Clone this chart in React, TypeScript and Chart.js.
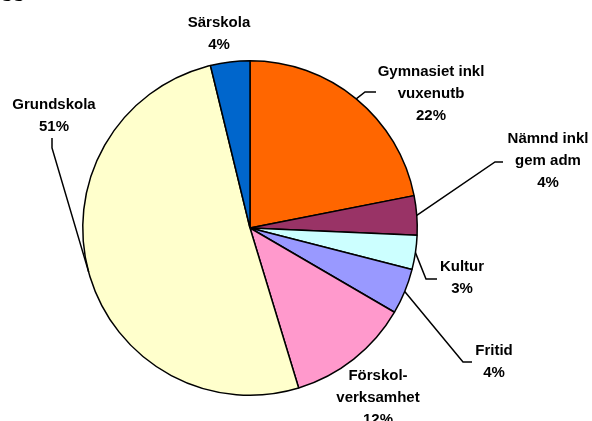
import React, { useEffect, useRef } from "react";
import { Chart, registerables } from "chart.js";

Chart.register(...registerables);

const categories: string[][] = [
  ["Gymnasiet inkl", "vuxenutb"],
  ["Nämnd inkl", "gem adm"],
  ["Kultur"],
  ["Fritid"],
  ["Förskol-", "verksamhet"],
  ["Grundskola"],
  ["Särskola"],
];
const values: number[] = [21.9, 3.8, 3.3, 4.4, 11.9, 50.9, 3.8];
const colors: string[] = ["#FF6600", "#993366", "#CCFFFF", "#9999FF", "#FF99CC", "#FFFFCC", "#0066CC"];

// label layout: text center x, first baseline y, leader points (from label side toward arc)
const labelLayout: { x: number; y: number; leader: number[][] }[] = [
  { x: 431, y: 76, leader: [[376, 92], [365, 92]] },
  { x: 548, y: 143, leader: [[503, 162], [495, 162]] },
  { x: 462, y: 271, leader: [[437, 279], [426, 279]] },
  { x: 494, y: 355, leader: [[472, 362], [463, 362]] },
  { x: 378, y: 380, leader: [] },
  { x: 54, y: 109, leader: [[52, 138], [52, 148]] },
  { x: 219, y: 27, leader: [] },
];

const FONT = "bold 15px Arial, 'Liberation Sans', sans-serif";
const LINE_H = 22;

const labelPlugin = {
  id: "pieLabels",
  afterDraw(chart: any) {
    const ctx = chart.ctx;
    const meta = chart.getDatasetMeta(0);
    const total = values.reduce((a, b) => a + b, 0);
    ctx.save();
    // clipped title remnant at top-left
    ctx.fillStyle = "#000";
    ctx.font = "bold 21px Arial, 'Liberation Sans', sans-serif";
    ctx.textAlign = "left";
    ctx.textBaseline = "alphabetic";
    ctx.fillText("ss", 1, 1);

    meta.data.forEach((arc: any, i: number) => {
      const lay = labelLayout[i];
      const mid = (arc.startAngle + arc.endAngle) / 2;
      const px = arc.x + Math.cos(mid) * arc.outerRadius;
      const py = arc.y + Math.sin(mid) * arc.outerRadius;
      if (lay.leader.length) {
        ctx.beginPath();
        ctx.strokeStyle = "#000";
        ctx.lineWidth = 1.5;
        ctx.moveTo(lay.leader[0][0], lay.leader[0][1]);
        for (let k = 1; k < lay.leader.length; k++) ctx.lineTo(lay.leader[k][0], lay.leader[k][1]);
        ctx.lineTo(px, py);
        ctx.stroke();
      }
      const lines = [...categories[i], Math.round((values[i] / total) * 100) + "%"];
      ctx.font = FONT;
      ctx.fillStyle = "#000";
      ctx.textAlign = "center";
      lines.forEach((t, j) => ctx.fillText(t, lay.x, lay.y + j * LINE_H));
    });
    ctx.restore();
  },
};

export default function App() {
  const ref = useRef<HTMLCanvasElement | null>(null);
  useEffect(() => {
    if (!ref.current) return;
    const chart = new Chart(ref.current, {
      type: "pie",
      data: {
        labels: categories.map((c) => c.join(" ")),
        datasets: [
          {
            data: values,
            backgroundColor: colors,
            borderColor: "#000",
            borderWidth: 1.5,
          },
        ],
      },
      options: {
        responsive: false,
        animation: false,
        rotation: 0,
        layout: { padding: { left: 82, right: 174, top: 60, bottom: 25 } },
        plugins: { legend: { display: false }, tooltip: { enabled: false } },
      },
      plugins: [labelPlugin],
    } as any);
    return () => chart.destroy();
  }, []);
  return (
    <div style={{ position: "fixed", left: 0, top: 0, width: 592, height: 421, background: "#fff" }}>
      <canvas ref={ref} width={592} height={421} />
    </div>
  );
}
